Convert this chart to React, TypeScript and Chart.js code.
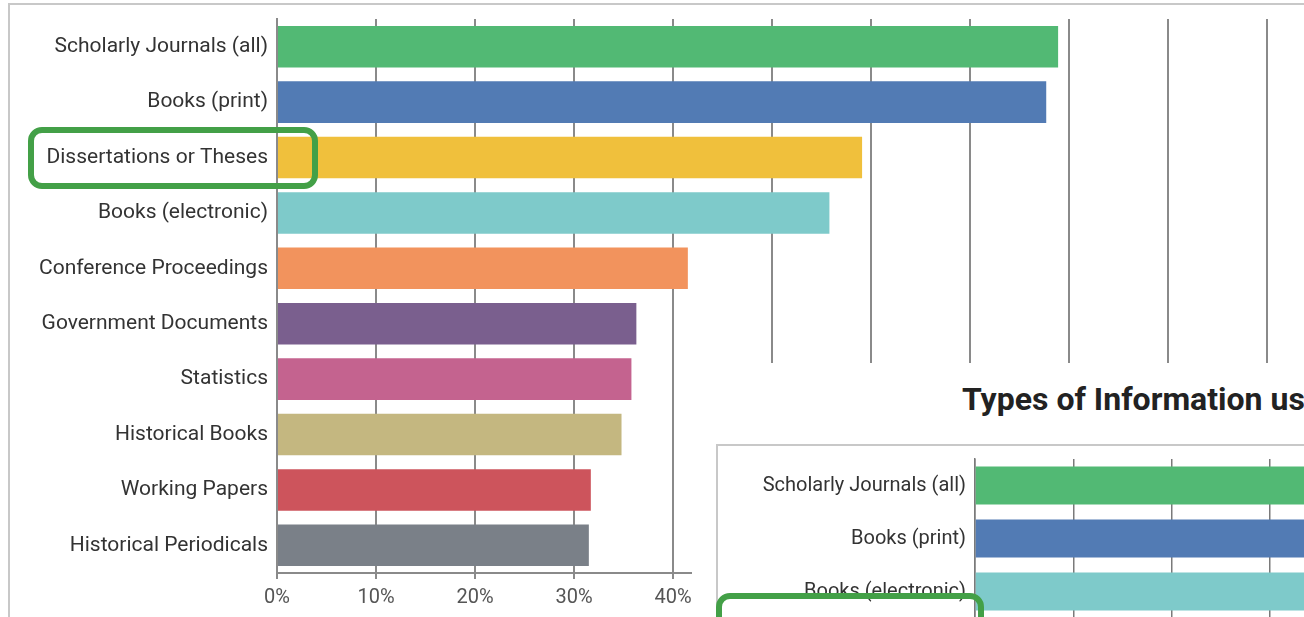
import React, { useEffect, useRef } from "react";
import { Chart, registerables } from "chart.js";
Chart.register(...registerables);

const categories = [
  "Scholarly Journals (all)",
  "Books (print)",
  "Dissertations or Theses",
  "Books (electronic)",
  "Conference Proceedings",
  "Government Documents",
  "Statistics",
  "Historical Books",
  "Working Papers",
  "Historical Periodicals",
];
const values = [78.9, 77.7, 59.1, 55.8, 41.5, 36.3, 35.8, 34.8, 31.7, 31.5];
const barColors = [
  "#52b974",
  "#527bb4",
  "#f0c03c",
  "#7ecaca",
  "#f2935d",
  "#7a5f8e",
  "#c4638f",
  "#c4b780",
  "#cd545c",
  "#7a8088",
];
const xTickStep = 10;
const xMax = 100;

const insetTitle = "Types of Information used";
const insetCategories = ["Scholarly Journals (all)", "Books (print)", "Books (electronic)"];
const insetValues = [80, 78, 62];
const insetColors = ["#52b974", "#527bb4", "#7ecaca"];

const GRID = "#8a8a8a";

function MainChart() {
  const ref = useRef<HTMLCanvasElement>(null);
  useEffect(() => {
    const chart = new Chart(ref.current!, {
      type: "bar",
      data: {
        labels: categories,
        datasets: [
          {
            data: values,
            backgroundColor: barColors,
            borderWidth: 0,
            barPercentage: 0.75,
            categoryPercentage: 1,
          },
        ],
      },
      options: {
        indexAxis: "y",
        responsive: false,
        animation: false,
        layout: { padding: { top: 14, right: 37, left: 0, bottom: 0 } },
        plugins: { legend: { display: false }, tooltip: { enabled: false } },
        scales: {
          x: {
            min: 0,
            max: xMax,
            ticks: {
              stepSize: xTickStep,
              callback: (v: any) => v + "%",
              color: "#555",
              font: { family: "Roboto", size: 20 },
              padding: 7,
              maxRotation: 0,
            },
            grid: { color: GRID, lineWidth: 2, tickLength: 6 },
            border: { color: GRID, width: 2 },
            afterFit: (s: any) => {
              s.height = 72;
              s.paddingLeft = 0;
              s.paddingRight = 0;
            },
          },
          y: {
            ticks: {
              color: "#333",
              font: { family: "Roboto", size: 21 },
              padding: 9,
            },
            grid: { display: false, drawTicks: false },
            border: { display: true, color: GRID, width: 2 },
            afterFit: (s: any) => {
              s.width = 267;
              s.paddingTop = 0;
              s.paddingBottom = 0;
            },
          },
        },
      },
    });
    return () => chart.destroy();
  }, []);
  return (
    <canvas
      ref={ref}
      width={1294}
      height={640}
      style={{ position: "absolute", left: 10, top: 5, width: 1294, height: 640 }}
    />
  );
}

function InsetChart() {
  const ref = useRef<HTMLCanvasElement>(null);
  useEffect(() => {
    const chart = new Chart(ref.current!, {
      type: "bar",
      data: {
        labels: insetCategories,
        datasets: [
          {
            data: insetValues,
            backgroundColor: insetColors,
            borderWidth: 0,
            barPercentage: 0.72,
            categoryPercentage: 1,
          },
        ],
      },
      options: {
        indexAxis: "y",
        responsive: false,
        animation: false,
        layout: { padding: { top: 13, right: 50, left: 0, bottom: 0 } },
        plugins: { legend: { display: false }, tooltip: { enabled: false } },
        scales: {
          x: {
            min: 0,
            max: xMax,
            ticks: {
              stepSize: xTickStep,
              callback: (v: any) => v + "%",
              color: "#555",
              font: { family: "Roboto", size: 19 },
              maxRotation: 0,
            },
            grid: { color: "#7a7a7a", lineWidth: 1.5, tickLength: 6 },
            border: { color: "#7a7a7a", width: 1.5 },
            afterFit: (s: any) => {
              s.height = 40;
              s.paddingLeft = 0;
              s.paddingRight = 0;
            },
          },
          y: {
            ticks: {
              color: "#333",
              font: { family: "Roboto", size: 20 },
              padding: 9,
            },
            grid: { display: false, drawTicks: false },
            border: { display: true, color: "#7a7a7a", width: 1.5 },
            afterFit: (s: any) => {
              s.width = 257;
              s.paddingTop = 0;
              s.paddingBottom = 0;
            },
          },
        },
      },
    });
    return () => chart.destroy();
  }, []);
  return (
    <canvas
      ref={ref}
      width={1290}
      height={212}
      style={{ position: "absolute", left: 718, top: 446, width: 1290, height: 212 }}
    />
  );
}

export default function App() {
  const highlight = "#43a047";
  return (
    <div
      style={{
        position: "fixed",
        left: 0,
        top: 0,
        width: 1304,
        height: 617,
        overflow: "hidden",
        background: "#fff",
      }}
    >
      <div
        style={{
          position: "absolute",
          left: 8,
          top: 3,
          width: 1400,
          height: 700,
          border: "2px solid #c8c8c8",
          boxSizing: "border-box",
        }}
      />
      <MainChart />
      <div
        style={{
          position: "absolute",
          left: 692,
          top: 363,
          width: 700,
          height: 300,
          background: "#fff",
        }}
      />
      <div
        style={{
          position: "absolute",
          left: 962,
          top: 383,
          fontFamily: "Roboto",
          fontWeight: 700,
          fontSize: 32,
          lineHeight: "32px",
          color: "#222",
          whiteSpace: "nowrap",
        }}
      >
        {insetTitle}
      </div>
      <div
        style={{
          position: "absolute",
          left: 716,
          top: 444,
          width: 700,
          height: 300,
          border: "2px solid #c8c8c8",
          boxSizing: "border-box",
          background: "#fff",
        }}
      />
      <InsetChart />
      <div
        style={{
          position: "absolute",
          left: 28,
          top: 127,
          width: 290,
          height: 62,
          border: `6px solid ${highlight}`,
          borderRadius: 14,
          boxSizing: "border-box",
        }}
      />
      <div
        style={{
          position: "absolute",
          left: 716,
          top: 593,
          width: 268,
          height: 62,
          border: `6px solid ${highlight}`,
          borderRadius: 14,
          boxSizing: "border-box",
        }}
      />
    </div>
  );
}
